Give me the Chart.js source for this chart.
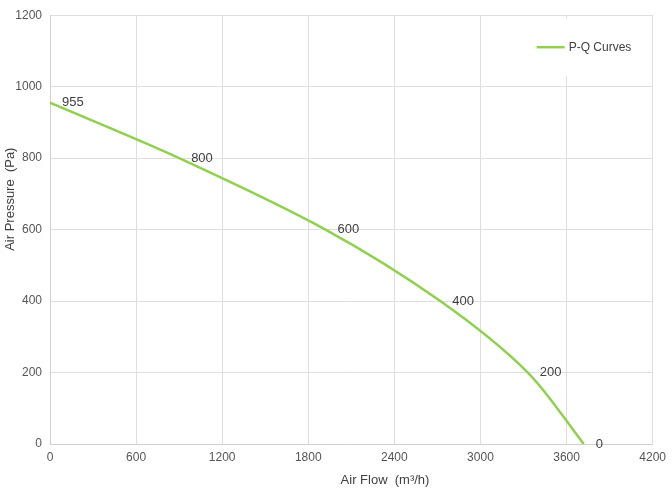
<!DOCTYPE html>
<html>
<head>
<meta charset="utf-8">
<script src="https://cdn.jsdelivr.net/npm/chart.js@4.4.1/dist/chart.umd.min.js"></script>
<style>
  html, body { margin: 0; padding: 0; background: #fff; }
  #wrap { width: 672px; height: 496px; position: relative; }
</style>
</head>
<body>
<div id="wrap"><canvas id="myChart"></canvas></div>
<script>
// du lieu doc tu hinh
const flowValues = [0, 900, 1920, 2720, 3330, 3720];
const pressureValues = [955, 800, 600, 400, 200, 0];
const pointLabels = ['955', '800', '600', '400', '200', '0'];
const seriesName = 'P-Q Curves';
const xTitle = 'Air Flow  (m³/h)';
const yTitle = 'Air Pressure  (Pa)';

const green = '#8fd14f';
const font = '"Liberation Sans", Arial, sans-serif';

// ve nhan gia tri, chu thich va tieu de truc
const extras = {
    id: 'extras',
    afterDatasetsDraw(chart) {
        const c = chart.ctx;
        const area = chart.chartArea;
        const meta = chart.getDatasetMeta(0);
        c.save();
        c.font = '13px ' + font;
        c.fillStyle = '#404040';
        c.textAlign = 'left';
        c.textBaseline = 'middle';
        meta.data.forEach((pt, i) => {
            c.fillText(pointLabels[i], pt.x + 12, pt.y);
        });

        // legend box
        c.fillStyle = '#fff';
        c.fillRect(area.right - 152, area.top + 3, 146, 58);
        c.strokeStyle = green;
        c.lineWidth = 2.5;
        c.beginPath();
        c.moveTo(area.right - 116, area.top + 32);
        c.lineTo(area.right - 88, area.top + 32);
        c.stroke();
        c.fillStyle = '#404040';
        c.font = '12px ' + font;
        c.fillText(seriesName, area.right - 84, area.top + 32);

        // axis titles
        c.font = '13px ' + font;
        c.textAlign = 'center';
        c.fillText(xTitle, area.left + 335, chart.height - 16);
        c.translate(10, area.top + 184);
        c.rotate(-Math.PI / 2);
        c.fillText(yTitle, 0, 0);
        c.restore();
    }
};

const ctx = document.getElementById('myChart').getContext('2d');
let myChart = new Chart(ctx, {
    type: 'line',
    data: {
        datasets: [{
            label: seriesName,
            data: flowValues.map((x, i) => ({ x: x, y: pressureValues[i] })),
            borderColor: green,
            borderWidth: 2.5,
            pointRadius: 0,
            fill: false,
            tension: 0.3
        }]
    },
    options: {
        responsive: true,
        maintainAspectRatio: false,
        animation: false,
        layout: { padding: { top: 7, right: 18, left: 0, bottom: 0 } },
        plugins: {
            legend: { display: false },
            tooltip: { enabled: false }
        },
        scales: {
            x: {
                type: 'linear',
                min: 0,
                max: 4200,
                ticks: { stepSize: 600, color: '#555', font: { family: font, size: 12 }, maxRotation: 0, padding: 6, callback: v => String(v) },
                grid: { color: '#dedede', drawTicks: false },
                border: { color: '#d0d0d0' },
                afterFit(scale) { scale.height = 52; }
            },
            y: {
                min: 0,
                max: 1200,
                ticks: { stepSize: 200, color: '#555', font: { family: font, size: 12 }, padding: 8, callback: v => String(v) },
                grid: { color: '#dedede', drawTicks: false },
                border: { color: '#d0d0d0' },
                afterFit(scale) { scale.width = 50; }
            }
        }
    },
    plugins: [extras]
});
</script>
</body>
</html>
